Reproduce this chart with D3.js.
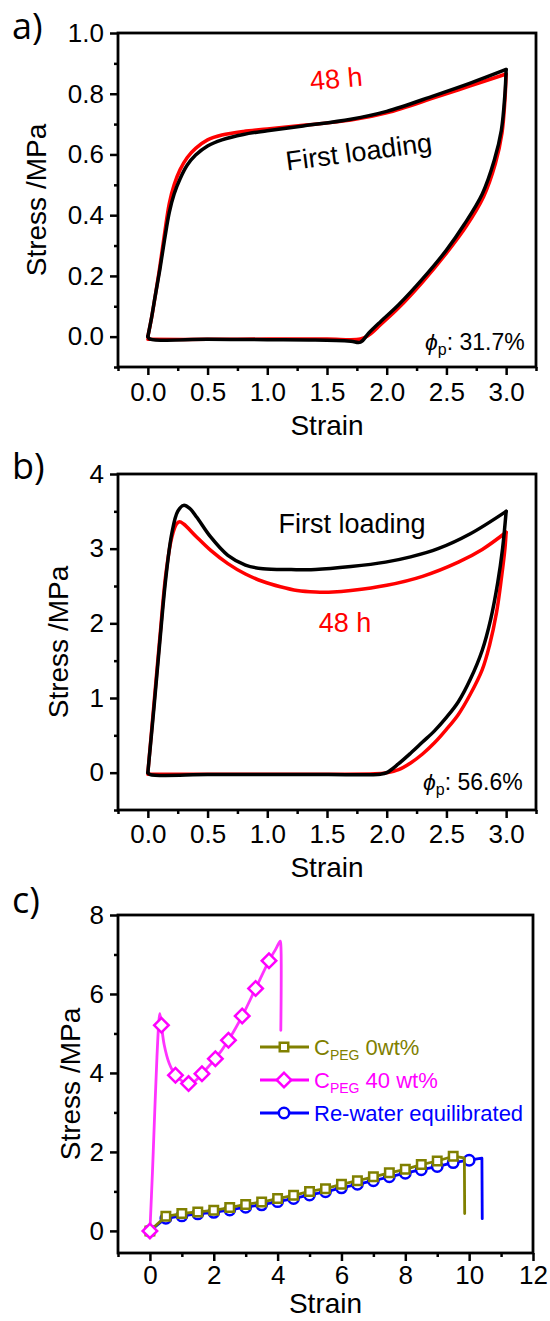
<!DOCTYPE html>
<html><head><meta charset="utf-8">
<script src="https://cdn.jsdelivr.net/npm/d3@7"></script>
<style>body{margin:0;background:#fff}svg{display:block}text{font-family:"Liberation Sans",Arial,sans-serif}</style>
</head><body>
<script>
// ---------- Panel a data ----------
const aFirstLoadStrain = [0,0.03,0.06,0.1,0.14,0.18,0.22,0.27,0.33,0.4,0.5,0.62,0.8,1.0,1.3,1.7,2.0,2.4,2.7,3.0];
const aFirstLoadStress = [0,0.06,0.13,0.22,0.32,0.41,0.47,0.52,0.565,0.598,0.628,0.648,0.666,0.678,0.694,0.716,0.742,0.794,0.835,0.88];
const aFirstUnloadStrain = [3.0,2.99,2.96,2.9,2.8,2.65,2.5,2.3,2.1,1.95,1.85,1.78,1.7,1.4,1.0,0.5,0.02,0];
const aFirstUnloadStress = [0.88,0.8,0.68,0.58,0.47,0.37,0.285,0.19,0.105,0.05,0.012,-0.018,-0.015,-0.011,-0.01,-0.009,-0.008,0];
const a48LoadStrain = [0,0.03,0.06,0.1,0.14,0.18,0.22,0.27,0.33,0.4,0.5,0.62,0.8,1.0,1.3,1.7,2.0,2.4,2.7,3.0];
const a48LoadStress = [0,0.06,0.13,0.23,0.34,0.44,0.5,0.55,0.59,0.62,0.648,0.664,0.676,0.684,0.696,0.713,0.737,0.787,0.826,0.865];
const a48UnloadStrain = [3.0,2.99,2.965,2.91,2.81,2.66,2.5,2.3,2.1,1.95,1.85,1.78,1.5,1.0,0.5,0];
const a48UnloadStress = [0.865,0.78,0.67,0.57,0.46,0.36,0.275,0.18,0.095,0.04,0.005,-0.008,-0.008,-0.008,-0.009,-0.009];

// ---------- Panel b data ----------
const bFirstLoadStrain = [0,0.05,0.1,0.15,0.2,0.25,0.3,0.35,0.41,0.524,0.67,0.817,0.964,1.2,1.404,1.7,1.99,2.2,2.43,2.7,3.0];
const bFirstLoadStress = [0,0.85,1.75,2.6,3.2,3.5,3.58,3.54,3.42,3.16,2.91,2.78,2.73,2.72,2.72,2.76,2.82,2.89,3.0,3.2,3.5];
const bFirstUnloadStrain = [3.0,2.97,2.93,2.87,2.8,2.7,2.6,2.5,2.4,2.3,2.2,2.1,2.0,1.95,1.5,1.0,0.5,0.02,0];
const bFirstUnloadStress = [3.5,3.0,2.55,2.05,1.64,1.25,0.95,0.74,0.56,0.41,0.26,0.12,0.0,-0.02,-0.025,-0.025,-0.025,-0.025,0];
const b48LoadStrain = [0,0.05,0.1,0.15,0.2,0.24,0.265,0.3,0.406,0.524,0.67,0.817,0.964,1.11,1.25,1.404,1.55,1.7,2.0,2.3,2.6,2.8,3.0];
const b48LoadStress = [0,0.9,1.8,2.65,3.15,3.33,3.36,3.33,3.16,2.98,2.8,2.66,2.56,2.49,2.44,2.42,2.42,2.44,2.51,2.63,2.82,2.99,3.22];
const b48UnloadStrain = [3.0,2.99,2.96,2.92,2.86,2.8,2.7,2.6,2.5,2.4,2.3,2.2,2.1,2.0,1.9,1.5,1.0,0.5,0];
const b48UnloadStress = [3.22,3.0,2.6,2.15,1.7,1.38,1.05,0.78,0.58,0.4,0.25,0.13,0.04,0.0,-0.015,-0.02,-0.02,-0.02,-0.02];

// ---------- Panel c data ----------
const cPeg40Strain = [0,0.08,0.15,0.22,0.28,0.31,0.36,0.45,0.6,0.8,1.0,1.21,1.42,1.63,2.05,2.46,2.89,3.31,3.73,3.95,4.08,4.1,4.1];
const cPeg40Stress = [0,1.5,3.0,4.4,5.3,5.5,5.21,4.7,4.25,3.94,3.8,3.73,3.8,3.98,4.36,4.83,5.44,6.14,6.84,7.15,7.34,7.25,5.08];
const cPeg40MarkStrain = [0,0.36,0.8,1.21,1.63,2.05,2.46,2.89,3.31,3.73];
const cPeg40MarkStress = [0,5.21,3.94,3.73,3.98,4.36,4.83,5.44,6.14,6.84];
const cPeg0Strain = [0,0.5,1,1.5,2,2.5,3,3.5,4,4.5,5,5.5,6,6.5,7,7.5,8,8.5,9,9.5,9.85,9.86];
const cPeg0Stress = [0,0.37,0.44,0.48,0.52,0.59,0.67,0.73,0.82,0.9,1.0,1.07,1.18,1.27,1.37,1.47,1.56,1.68,1.77,1.89,1.85,0.44];
const cPeg0MarkCount = 20;
const cRewaterStrain = [0,0.5,1,1.5,2,2.5,3,3.5,4,4.5,5,5.5,6,6.5,7,7.5,8,8.5,9,9.5,10,10.4,10.41];
const cRewaterStress = [0,0.32,0.38,0.43,0.47,0.53,0.6,0.66,0.74,0.82,0.91,0.99,1.09,1.18,1.27,1.37,1.46,1.55,1.63,1.73,1.79,1.84,0.31];
const cRewaterMarkCount = 21;

// ---------- tick labels ----------
const abXTicks = [0,0.5,1,1.5,2,2.5,3];
const abXMinor = [-0.25,0.25,0.75,1.25,1.75,2.25,2.75,3.25];
const aYTicks = [0,0.2,0.4,0.6,0.8,1.0];
const aYMinor = [-0.1,0.1,0.3,0.5,0.7,0.9];
const bYTicks = [0,1,2,3,4];
const bYMinor = [-0.5,0.5,1.5,2.5,3.5];
const cXTicks = [0,2,4,6,8,10,12];
const cXMinor = [-1,1,3,5,7,9,11];
const cYTicks = [0,2,4,6,8];
const cYMinor = [1,3,5,7];

const legendLabels = [["C","PEG"," 0wt%"],["C","PEG"," 40 wt%"],["Re-water equilibrated"]];

const zip = (xs, ys) => xs.map((v,i)=>[v, ys[i]]);

const svg = d3.select("body").append("svg").attr("width",550).attr("height",1321);

function panel(o){
  const g = svg.append("g");
  const x = d3.scaleLinear().domain(o.xd).range([o.left,o.right]);
  const y = d3.scaleLinear().domain(o.yd).range([o.bottom,o.top]);
  const mx = g.append("g").attr("transform",`translate(0,${o.bottom})`)
    .call(d3.axisBottom(x).tickValues(o.xMinor).tickSize(4).tickFormat(""));
  const my = g.append("g").attr("transform",`translate(${o.left},0)`)
    .call(d3.axisLeft(y).tickValues(o.yMinor).tickSize(4).tickFormat(""));
  const ax = g.append("g").attr("transform",`translate(0,${o.bottom})`)
    .call(d3.axisBottom(x).tickValues(o.xTicks).tickSize(8).tickPadding(o.xPad).tickFormat(o.xFmt));
  const ay = g.append("g").attr("transform",`translate(${o.left},0)`)
    .call(d3.axisLeft(y).tickValues(o.yTicks).tickSize(8).tickPadding(6).tickFormat(o.yFmt));
  [mx,my,ax,ay].forEach(s=>{
    s.attr("font-family",null);
    s.select(".domain").remove();
    s.selectAll("line").attr("stroke","#000").attr("stroke-width",2.5);
    s.selectAll("text").attr("font-size",26).attr("fill","#000");
  });
  const cid = "clip"+o.id;
  g.append("clipPath").attr("id",cid).append("rect")
    .attr("x",o.left).attr("y",o.top).attr("width",o.right-o.left).attr("height",o.bottom-o.top);
  const plot = g.append("g").attr("clip-path",`url(#${cid})`);
  g.append("rect").attr("x",o.left).attr("y",o.top).attr("width",o.right-o.left).attr("height",o.bottom-o.top)
    .attr("fill","none").attr("stroke","#000").attr("stroke-width",2.8);
  g.append("text").attr("x",(o.left+o.right)/2).attr("y",o.xTitleY).attr("text-anchor","middle")
    .attr("font-size",28).text("Strain");
  g.append("text").attr("transform",`translate(${o.yTitleX},${(o.top+o.bottom)/2}) rotate(-90)`)
    .attr("text-anchor","middle").attr("font-size",28).text("Stress /MPa");
  g.append("text").attr("x",o.labX).attr("y",o.labY).attr("font-size",36)
    .style("font-family","'Open Sans', sans-serif").text(o.label);
  return {g, plot, x, y};
}

const smooth = d3.curveCatmullRom.alpha(0.5);

function drawLine(p, data, color, w, curve){
  p.plot.append("path").datum(data).attr("fill","none").attr("stroke",color).attr("stroke-width",w)
    .attr("stroke-linejoin","round").attr("stroke-linecap","round")
    .attr("d", d3.line().x(d=>p.x(d[0])).y(d=>p.y(d[1])).curve(curve||smooth));
}

function phiLabel(g, x, y, val){
  const t = g.append("text").attr("x",x).attr("y",y).attr("font-size",23).attr("fill","#000");
  t.append("tspan").attr("font-style","italic").text("\u03D5");
  t.append("tspan").attr("font-size",16).attr("dy",5).text("p");
  t.append("tspan").attr("dy",-5).text(": "+val);
}

// ---------- Panel a ----------
const pa = panel({id:"a",left:118,right:536,top:33,bottom:367,xd:[-0.25,3.25],yd:[-0.1,1.0],
  xTicks:abXTicks,xMinor:abXMinor,yTicks:aYTicks,yMinor:aYMinor,xPad:8,
  xFmt:d3.format(".1f"),yFmt:d3.format(".1f"),xTitleY:435,yTitleX:46,label:"a)",labX:12,labY:39});
drawLine(pa, zip(a48LoadStrain,a48LoadStress), "#ff0000", 3.5);
drawLine(pa, zip(a48UnloadStrain,a48UnloadStress), "#ff0000", 3.5);
drawLine(pa, zip(aFirstLoadStrain,aFirstLoadStress), "#000", 3.5);
drawLine(pa, zip(aFirstUnloadStrain,aFirstUnloadStress), "#000", 3.5);
pa.g.append("text").attr("transform","translate(337,88) rotate(-5)").attr("text-anchor","middle")
  .attr("font-size",27).attr("fill","#ff0000").text("48 h");
pa.g.append("text").attr("transform","translate(360,161) rotate(-7.5)").attr("text-anchor","middle")
  .attr("font-size",27).attr("fill","#000").text("First loading");
phiLabel(pa.g, 425, 350, "31.7%");

// ---------- Panel b ----------
const pb = panel({id:"b",left:118,right:536,top:474,bottom:810,xd:[-0.25,3.25],yd:[-0.5,4],
  xTicks:abXTicks,xMinor:abXMinor,yTicks:bYTicks,yMinor:bYMinor,xPad:7,
  xFmt:d3.format(".1f"),yFmt:d3.format("d"),xTitleY:877,yTitleX:68,label:"b)",labX:12,labY:479});
drawLine(pb, zip(b48LoadStrain,b48LoadStress), "#ff0000", 3.5);
drawLine(pb, zip(b48UnloadStrain,b48UnloadStress), "#ff0000", 3.5);
drawLine(pb, zip(bFirstLoadStrain,bFirstLoadStress), "#000", 3.5);
drawLine(pb, zip(bFirstUnloadStrain,bFirstUnloadStress), "#000", 3.5);
pb.g.append("text").attr("x",352).attr("y",533).attr("text-anchor","middle")
  .attr("font-size",27).attr("fill","#000").text("First loading");
pb.g.append("text").attr("x",345).attr("y",632).attr("text-anchor","middle")
  .attr("font-size",27).attr("fill","#ff0000").text("48 h");
phiLabel(pb.g, 423, 790, "56.6%");

// ---------- Panel c ----------
const pc = panel({id:"c",left:118,right:533,top:915,bottom:1253,xd:[-1,12],yd:[-0.56,8],
  xTicks:cXTicks,xMinor:cXMinor,yTicks:cYTicks,yMinor:cYMinor,xPad:5,
  xFmt:d3.format("d"),yFmt:d3.format("d"),xTitleY:1313,yTitleX:80,label:"c)",labX:12,labY:913});

const colBlue="#0000ff", colOlive="#808000", colMag="#ff00ff";
function symFor(name){
  if(name==="square") return {d:d3.symbol().type(d3.symbolSquare).size(72)(), rot:0};
  if(name==="diamond") return {d:d3.symbol().type(d3.symbolSquare).size(105)(), rot:45};
  return {d:d3.symbol().type(d3.symbolCircle).size(85)(), rot:0};
}
function markers(p, pts, shape, color){
  const s = symFor(shape);
  p.plot.selectAll(null).data(pts).enter().append("path")
    .attr("transform",d=>`translate(${p.x(d[0])},${p.y(d[1])}) rotate(${s.rot})`)
    .attr("d",s.d).attr("fill","#fff").attr("stroke",color).attr("stroke-width",2.5);
}
const rew = zip(cRewaterStrain,cRewaterStress);
drawLine(pc, rew, colBlue, 2.8, d3.curveLinear);
markers(pc, rew.slice(0,cRewaterMarkCount), "circle", colBlue);
const peg0 = zip(cPeg0Strain,cPeg0Stress);
drawLine(pc, peg0, colOlive, 2.8, d3.curveLinear);
markers(pc, peg0.slice(0,cPeg0MarkCount), "square", colOlive);
drawLine(pc, zip(cPeg40Strain,cPeg40Stress), "#ff33ff", 2.8);
markers(pc, zip(cPeg40MarkStrain,cPeg40MarkStress), "diamond", colMag);

// legend
const legItems = [{c:colOlive,s:"square",y:1047},{c:colMag,s:"diamond",y:1080},{c:colBlue,s:"circle",y:1113}];
legItems.forEach((it,i)=>{
  const lg = pc.g.append("g");
  lg.append("line").attr("x1",260).attr("x2",309).attr("y1",it.y).attr("y2",it.y).attr("stroke",it.c).attr("stroke-width",2.8);
  const s = symFor(it.s);
  lg.append("path").attr("transform",`translate(284,${it.y}) rotate(${s.rot})`)
    .attr("d",s.d).attr("fill","#fff").attr("stroke",it.c).attr("stroke-width",2.5);
  const t = lg.append("text").attr("x",314).attr("y",it.y+8).attr("font-size",22).attr("fill",it.c);
  const parts = legendLabels[i];
  if(parts.length===3){
    t.append("tspan").text(parts[0]);
    t.append("tspan").attr("font-size",14).attr("dy",5).text(parts[1]);
    t.append("tspan").attr("dy",-5).text(parts[2]);
  } else t.text(parts[0]);
});
</script>
</body></html>
